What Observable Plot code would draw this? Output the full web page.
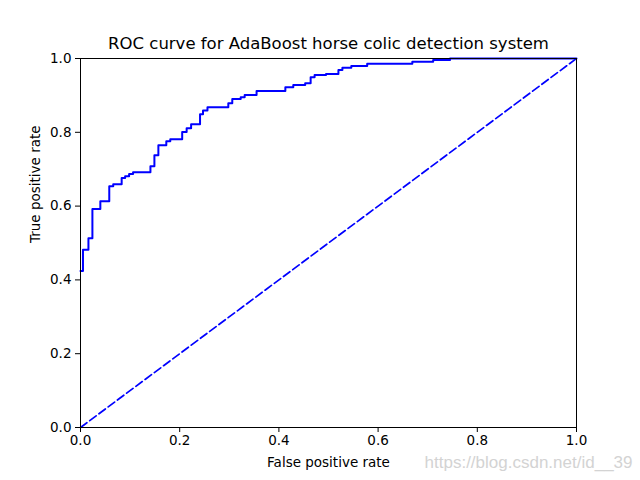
<!DOCTYPE html>
<html>
<head>
<meta charset="utf-8">
<script src="https://cdn.jsdelivr.net/npm/d3@7"></script>
<script src="https://cdn.jsdelivr.net/npm/@observablehq/plot@0.6"></script>
<style>
  html, body { margin: 0; padding: 0; background: #fff; }
</style>
</head>
<body>
<div id="chart"></div>
<script>
const titleText = "ROC curve for AdaBoost horse colic detection system";
const xLabel = "False positive rate";
const yLabel = "True positive rate";
const watermark = "https://blog.csdn.net/id__39";
const ticks = [0, 0.2, 0.4, 0.6, 0.8, 1.0];

const fpr = [0, 0.005, 0.016, 0.024, 0.040, 0.058, 0.066, 0.083, 0.090,
  0.098, 0.106, 0.141, 0.149, 0.157, 0.173, 0.181, 0.205, 0.214, 0.223,
  0.241, 0.247, 0.256, 0.298, 0.306, 0.323, 0.331, 0.355, 0.413, 0.429,
  0.453, 0.464, 0.472, 0.495, 0.520, 0.528, 0.546, 0.578, 0.669, 0.711,
  0.745, 1.0];
const tpr = [0.424, 0.482, 0.513, 0.592, 0.613, 0.654, 0.659, 0.676, 0.681,
  0.687, 0.692, 0.708, 0.738, 0.765, 0.776, 0.781, 0.801, 0.811, 0.822,
  0.849, 0.859, 0.868, 0.879, 0.890, 0.895, 0.901, 0.912, 0.922, 0.928,
  0.933, 0.949, 0.955, 0.958, 0.969, 0.975, 0.980, 0.986, 0.991, 0.996,
  1.0, 1.0];
const diagX = [0, 1];
const diagY = [0, 1];

const roc = fpr.map((x, i) => ({x, y: tpr[i]}));
const diag = diagX.map((x, i) => ({x, y: diagY[i]}));

const chart = Plot.plot({
  width: 640,
  height: 480,
  marginLeft: 80,
  marginRight: 64,
  marginTop: 58,
  marginBottom: 53,
  style: {fontFamily: "DejaVu Sans", fontSize: "13.5px", color: "black", background: "white"},
  x: {domain: [0, 1]},
  y: {domain: [0, 1]},
  marks: [
    Plot.line(diag, {x: "x", y: "y", stroke: "#0000ff", strokeWidth: 1.7, strokeDasharray: "8,3.5"}),
    Plot.line(roc, {x: "x", y: "y", stroke: "#0000ff", strokeWidth: 2, curve: "step-after"}),
    Plot.axisX({ticks, tickFormat: d3.format(".1f"), tickSize: 5, tickPadding: 3, label: null, fontSize: 13.5}),
    Plot.axisY({ticks, tickFormat: d3.format(".1f"), tickSize: 5, tickPadding: 4, label: null, fontSize: 13.5}),
    Plot.frame({stroke: "black", strokeWidth: 1}),
    Plot.text([titleText], {text: d => d, frameAnchor: "top", lineAnchor: "middle", dy: -15, fontSize: 16.5}),
    Plot.text([xLabel], {text: d => d, frameAnchor: "bottom", lineAnchor: "middle", dy: 35, fontSize: 13.5}),
    Plot.text([yLabel], {text: d => d, frameAnchor: "left", lineAnchor: "middle", dx: -45, rotate: -90, fontSize: 13.5}),
    Plot.text([watermark], {text: d => d, frameAnchor: "bottom-right", lineAnchor: "middle", textAnchor: "end", dx: 56, dy: 35, fontSize: 17, fill: "#d3d3d3", fontFamily: "Liberation Sans"})
  ]
});
document.getElementById("chart").appendChild(chart);
</script>
</body>
</html>
